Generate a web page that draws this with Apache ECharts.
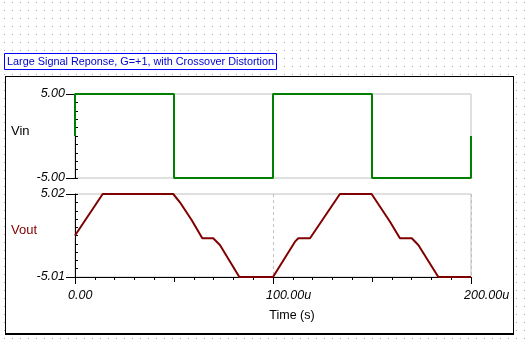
<!DOCTYPE html>
<html><head><meta charset="utf-8">
<script src="https://cdn.jsdelivr.net/npm/echarts@6/dist/echarts.min.js"></script>
<style>
html,body{margin:0;padding:0;width:525px;height:340px;overflow:hidden;
background:#fff url("data:image/svg+xml;utf8,<svg xmlns='http://www.w3.org/2000/svg' width='8' height='8'><rect x='4' y='2' width='1' height='1' fill='%23a8a8a8'/></svg>") 0 0 repeat;}
#panel{position:absolute;left:5px;top:76px;width:509px;height:259px;box-sizing:border-box;background:#fff;border:1px solid #000;border-bottom-width:2px;}
#c{position:absolute;left:0;top:0;width:525px;height:340px;}
</style></head><body><div id="panel"></div><div id="c"></div>
<script>
// ---- data (time in microseconds) ----
const titleText = 'Large Signal Reponse, G=+1, with Crossover Distortion';
const vinTime   = [0, 0, 50, 50, 100, 100, 150, 150, 200, 200];
const vinValues = [0, 5, 5, -5, -5, 5, 5, -5, -5, 0];
const voutTime   = [0, 14, 49.6, 53, 58.9, 64.3, 69.8, 73.2, 83, 100, 111.1, 112.8, 118.7, 133.8, 149.8, 159.1, 164.1, 170.1, 173.4, 183.5, 200];
const voutValues = [0, 5.02, 5.02, 4.02, 1.88, -0.33, -0.33, -1.14, -5.01, -5.01, -0.74, -0.33, -0.33, 5.02, 5.02, 1.67, -0.33, -0.33, -1.14, -5.01, -5.01];
const vinTicks  = [-5, 5];
const voutTicks = [-5.01, 5.02];
const timeTicks = [0, 100, 200];
const timeTickLabels = ['0.00', '100.00u', '200.00u'];

const FONT = 'Arial, "Liberation Sans", sans-serif';
const chart = echarts.init(document.getElementById('c'), null, {renderer: 'canvas'});
const pair = (xs, ys) => xs.map((x, i) => [x, ys[i]]);
const lblStyle = {fontFamily: FONT, fontSize: 12.5, fontStyle: 'italic', color: '#000'};

chart.setOption({
  animation: false,
  backgroundColor: 'transparent',
  title: {
    text: titleText, left: 4, top: 53, padding: [3, 3, 3, 3],
    borderColor: '#0000ff', borderWidth: 1, backgroundColor: '#fff',
    textStyle: {fontFamily: FONT, fontSize: 10.85, fontWeight: 'normal', color: '#0000d0'}
  },
  grid: [
    {left: 75, top: 94, width: 396, height: 84, show: true, borderColor: '#c0c0c0', borderWidth: 1, backgroundColor: 'transparent', containLabel: false},
    {left: 75, top: 194, width: 396, height: 83, show: true, borderColor: '#c0c0c0', borderWidth: 1, backgroundColor: 'transparent', containLabel: false}
  ],
  xAxis: [
    {gridIndex: 0, type: 'value', min: 0, max: 200, show: false, axisLine: {onZero: false}},
    {gridIndex: 1, type: 'value', min: 0, max: 200, interval: 100, position: 'bottom',
     axisLine: {show: true, onZero: false, lineStyle: {color: '#000', width: 1}},
     axisTick: {show: true, length: 7, lineStyle: {color: '#000'}},
     minorTick: {show: true, splitNumber: 10, length: 3, lineStyle: {color: '#000'}},
     splitLine: {show: true, lineStyle: {color: '#c0c0c0', type: [3, 3]}},
     axisLabel: Object.assign({margin: 12, align: 'left', padding: [0, 0, 0, -7], showMinLabel: true, showMaxLabel: true,
       formatter: v => timeTickLabels[timeTicks.indexOf(v)] || ''}, lblStyle),
     name: 'Time (s)', nameLocation: 'middle', nameGap: 32,
     nameTextStyle: {fontFamily: FONT, fontSize: 12.5, color: '#000', padding: [0, 0, 0, 38]}},
    {gridIndex: 1, type: 'value', min: 0, max: 200, interval: 50, position: 'bottom',
     axisLine: {show: false, onZero: false}, axisTick: {show: true, length: 5, lineStyle: {color: '#000'}},
     axisLabel: {show: false}, splitLine: {show: false}}
  ],
  yAxis: [
    {gridIndex: 0, type: 'value', min: -5, max: 5, interval: 1, position: 'left',
     axisLine: {show: true, onZero: false, lineStyle: {color: '#000'}},
     axisTick: {show: true, inside: true, length: 3, lineStyle: {color: '#000'}},
     axisLabel: {show: false}, splitLine: {show: false},
     name: 'Vin', nameLocation: 'middle', nameRotate: 0, nameGap: 64,
     nameTextStyle: {fontFamily: FONT, fontSize: 13, lineHeight: 10, color: '#000', align: 'left', verticalAlign: 'bottom'}},
    {gridIndex: 0, type: 'value', min: -5, max: 5, position: 'left',
     axisLine: {show: false, onZero: false},
     axisTick: {show: true, length: 9, customValues: vinTicks, lineStyle: {color: '#000'}},
     axisLabel: Object.assign({margin: 10, customValues: vinTicks, formatter: v => v.toFixed(2)}, lblStyle),
     splitLine: {show: false}},
    {gridIndex: 1, type: 'value', min: -5.01, max: 5.02, interval: 1, position: 'left',
     axisLine: {show: true, onZero: false, lineStyle: {color: '#000'}},
     axisTick: {show: true, inside: true, length: 3, lineStyle: {color: '#000'}},
     axisLabel: {show: false}, splitLine: {show: false},
     name: 'Vout', nameLocation: 'middle', nameRotate: 0, nameGap: 64,
     nameTextStyle: {fontFamily: FONT, fontSize: 13, lineHeight: 10, color: '#800000', align: 'left', verticalAlign: 'bottom'}},
    {gridIndex: 1, type: 'value', min: -5.01, max: 5.02, position: 'left',
     axisLine: {show: false, onZero: false},
     axisTick: {show: true, length: 9, customValues: voutTicks, lineStyle: {color: '#000'}},
     axisLabel: Object.assign({margin: 10, customValues: voutTicks, formatter: v => v.toFixed(2)}, lblStyle),
     splitLine: {show: false}}
  ],
  series: [
    {type: 'line', xAxisIndex: 0, yAxisIndex: 0, data: pair(vinTime, vinValues), showSymbol: false, symbol: 'none',
     lineStyle: {color: '#008000', width: 2}, z: 5},
    {type: 'line', xAxisIndex: 1, yAxisIndex: 2, data: pair(voutTime, voutValues), showSymbol: false, symbol: 'none',
     lineStyle: {color: '#800000', width: 2}, z: 5}
  ]
});
</script></body></html>
